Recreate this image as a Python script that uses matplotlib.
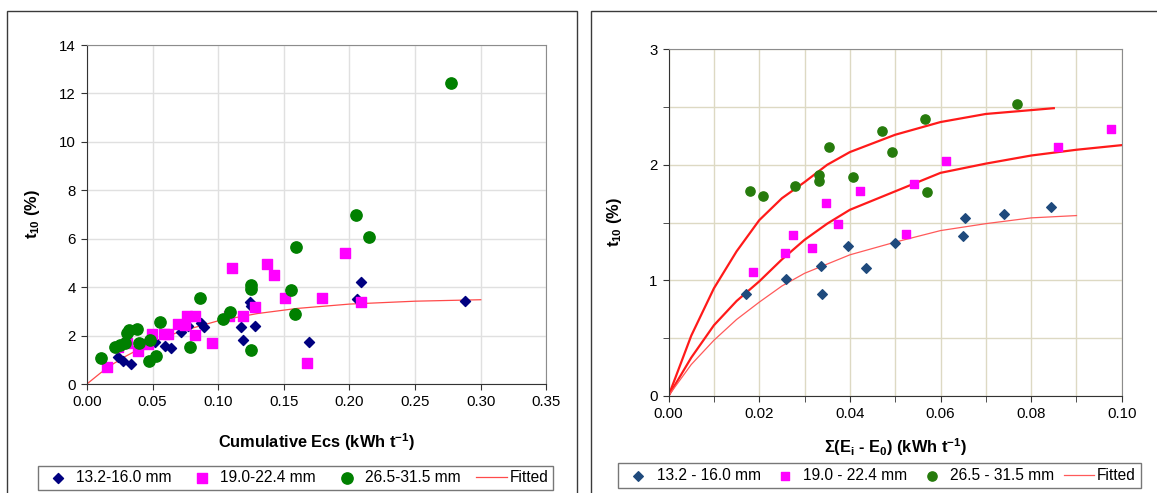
import matplotlib
matplotlib.use('Agg')
import matplotlib.pyplot as plt
from matplotlib.patches import Rectangle
from matplotlib.ticker import MultipleLocator, FormatStrFormatter

plt.rcParams['font.family'] = ['Liberation Sans', 'DejaVu Sans']
plt.rcParams['mathtext.fontset'] = 'custom'
plt.rcParams['mathtext.rm'] = 'Liberation Sans'
plt.rcParams['mathtext.bf'] = 'Liberation Sans:bold'

# ---- left panel data: cumulative Ecs vs t10
l_d_x = [0.0234, 0.0277, 0.0336, 0.0519, 0.0595, 0.0638, 0.0714, 0.0772, 0.0869, 0.0892,
         0.1174, 0.1187, 0.1242, 0.1248, 0.128, 0.169, 0.2055, 0.2088, 0.288]
l_d_y = [1.13, 0.96, 0.81, 1.75, 1.57, 1.47, 2.16, 2.40, 2.51, 2.34,
         2.34, 1.82, 3.40, 3.22, 2.41, 1.72, 3.50, 4.23, 3.43]
l_s_x = [0.0155, 0.024, 0.0303, 0.0392, 0.0468, 0.0498, 0.059, 0.062, 0.0696, 0.0747,
         0.076, 0.0823, 0.0826, 0.095, 0.108, 0.1105, 0.119, 0.1283, 0.1372, 0.1428,
         0.1512, 0.168, 0.1788, 0.1966, 0.2085]
l_s_y = [0.72, 1.54, 1.68, 1.38, 1.64, 2.07, 2.07, 2.07, 2.48, 2.44,
         2.81, 2.81, 2.02, 1.68, 2.82, 4.78, 2.82, 3.19, 4.94, 4.50,
         3.55, 0.87, 3.54, 5.40, 3.40]
l_c_x = [0.011, 0.0214, 0.0254, 0.029, 0.0305, 0.0324, 0.038, 0.0395, 0.047, 0.0477,
         0.0527, 0.0558, 0.0784, 0.0865, 0.1034, 0.109, 0.1249, 0.1252, 0.1252, 0.1553,
         0.1584, 0.1595, 0.2052, 0.2145, 0.277]
l_c_y = [1.07, 1.52, 1.61, 1.71, 2.11, 2.23, 2.27, 1.71, 0.95, 1.82,
         1.17, 2.57, 1.53, 3.56, 2.68, 2.96, 3.94, 4.09, 1.40, 3.88,
         2.89, 5.65, 6.98, 6.06, 12.42]
l_fit_x = [0, 0.01, 0.02, 0.03, 0.05, 0.07, 0.10, 0.13, 0.16, 0.20, 0.25, 0.30]
l_fit_y = [0, 0.44, 0.83, 1.16, 1.73, 2.15, 2.61, 2.91, 3.12, 3.30, 3.42, 3.48]

# ---- right panel data: sum(Ei - E0) vs t10
r_d_x = [0.017, 0.0259, 0.0336, 0.0338, 0.0395, 0.0435, 0.050, 0.065, 0.0654, 0.0741, 0.0844]
r_d_y = [0.88, 1.01, 1.12, 0.88, 1.30, 1.11, 1.32, 1.38, 1.54, 1.57, 1.63]
r_s_x = [0.0187, 0.0257, 0.0274, 0.0316, 0.0347, 0.0373, 0.0422, 0.0523, 0.0541, 0.0612, 0.0859, 0.0977]
r_s_y = [1.07, 1.24, 1.39, 1.28, 1.67, 1.49, 1.77, 1.40, 1.83, 2.03, 2.15, 2.31]
r_c_x = [0.018, 0.0209, 0.0278, 0.0331, 0.0332, 0.0353, 0.0407, 0.0471, 0.0493, 0.0566, 0.0571, 0.0769]
r_c_y = [1.77, 1.73, 1.82, 1.91, 1.86, 2.15, 1.89, 2.29, 2.11, 2.40, 1.76, 2.53]
fit_c_x = [0, 0.005, 0.01, 0.015, 0.02, 0.025, 0.03, 0.035, 0.04, 0.05, 0.06, 0.07, 0.085]
fit_c_y = [0, 0.52, 0.93, 1.25, 1.52, 1.71, 1.85, 2.0, 2.11, 2.26, 2.37, 2.44, 2.49]
fit_s_x = [0, 0.005, 0.01, 0.015, 0.02, 0.025, 0.03, 0.035, 0.04, 0.05, 0.06, 0.07, 0.08, 0.09, 0.10]
fit_s_y = [0, 0.33, 0.61, 0.82, 0.99, 1.18, 1.35, 1.49, 1.61, 1.77, 1.93, 2.01, 2.08, 2.13, 2.17]
fit_d_x = [0, 0.005, 0.01, 0.015, 0.02, 0.025, 0.03, 0.04, 0.05, 0.06, 0.07, 0.08, 0.09]
fit_d_y = [0, 0.27, 0.48, 0.66, 0.81, 0.95, 1.06, 1.22, 1.33, 1.43, 1.49, 1.54, 1.56]

W, H = 1157, 493
fig = plt.figure(figsize=(W / 100, H / 100), dpi=100)

# panel frames
fig.patches.append(Rectangle((7 / W, -0.01), 570 / W, (H - 11) / H + 0.01,
                             transform=fig.transFigure, fill=False, ec='#3a3a3a', lw=1))
fig.patches.append(Rectangle((591 / W, -0.01), 580 / W, (H - 11) / H + 0.01,
                             transform=fig.transFigure, fill=False, ec='#3a3a3a', lw=1))


def style_axes(ax, gridcol):
    ax.grid(True, which='both', color=gridcol, lw=1)
    ax.set_axisbelow(True)
    for s in ['top', 'right']:
        ax.spines[s].set_color('#8c8c8c')
    for s in ['left', 'bottom']:
        ax.spines[s].set_color('#333333')
    ax.tick_params(which='both', direction='out', length=4, color='#333333',
                   labelsize=10.8, pad=4)


def add_legend(ax, x0, y0, w, h, colsp):
    hd, lb = ax.get_legend_handles_labels()
    order = [1, 2, 3, 0]
    fig.legend([hd[i] for i in order], [lb[i] for i in order], ncol=4,
               bbox_to_anchor=(x0 / W, y0 / H, w / W, h / H), loc='center',
               fontsize=11.2, frameon=True, fancybox=False, edgecolor='#555555',
               handlelength=1.95, handletextpad=0.2, columnspacing=colsp,
               borderaxespad=0, scatterpoints=1, borderpad=0.3)


# ---- left
ax1 = fig.add_axes([86.9 / W, (H - 384) / H, 459.5 / W, 339 / H])
style_axes(ax1, '#e0e0e0')
ax1.plot(l_fit_x, l_fit_y, color='#ff4a4a', lw=0.9, label='Fitted', zorder=2)
ax1.scatter(l_d_x, l_d_y, marker='D', s=26, color='#000080', label='13.2-16.0 mm', zorder=3)
ax1.scatter(l_s_x, l_s_y, marker='s', s=60, color='#ff00ff', label='19.0-22.4 mm', zorder=3)
ax1.scatter(l_c_x, l_c_y, marker='o', s=66, color='#008000', label='26.5-31.5 mm', zorder=3)
ax1.set_xlim(0, 0.35)
ax1.set_ylim(0, 14)
ax1.xaxis.set_major_locator(MultipleLocator(0.05))
ax1.yaxis.set_major_locator(MultipleLocator(2))
ax1.xaxis.set_major_formatter(FormatStrFormatter('%.2f'))
ax1.set_xlabel('Cumulative Ecs (kWh t$^{\\mathregular{-1}}$)', fontsize=11.8,
               fontweight='bold', labelpad=16)
ax1.set_ylabel('t$_{\\mathregular{10}}$ (%)', fontsize=11.8, fontweight='bold', labelpad=12)
add_legend(ax1, 36, 1, 519, 28, 1.0)

# ---- right
ax2 = fig.add_axes([668.6 / W, (H - 395.7) / H, 453.2 / W, 346.4 / H])
style_axes(ax2, '#ddd9c3')
ax2.plot(fit_c_x, fit_c_y, color='#ff1a1a', lw=1.6, zorder=2)
ax2.plot(fit_s_x, fit_s_y, color='#ff1a1a', lw=1.6, zorder=2)
ax2.plot(fit_d_x, fit_d_y, color='#ff5a5a', lw=0.9, label='Fitted', zorder=2)
ax2.scatter(r_d_x, r_d_y, marker='D', s=24, color='#1f4a7d', label='13.2 - 16.0 mm', zorder=3)
ax2.scatter(r_s_x, r_s_y, marker='s', s=40, color='#ff00ff', label='19.0 - 22.4 mm', zorder=3)
ax2.scatter(r_c_x, r_c_y, marker='o', s=44, color='#267b0c', label='26.5 - 31.5 mm', zorder=3)
ax2.set_xlim(0, 0.10)
ax2.set_ylim(0, 3)
ax2.xaxis.set_major_locator(MultipleLocator(0.02))
ax2.xaxis.set_minor_locator(MultipleLocator(0.01))
ax2.yaxis.set_major_locator(MultipleLocator(1))
ax2.yaxis.set_minor_locator(MultipleLocator(0.5))
ax2.xaxis.set_major_formatter(FormatStrFormatter('%.2f'))
ax2.set_xlabel('Σ(E$_{\\mathregular{i}}$ - E$_{\\mathregular{0}}$) (kWh t$^{\\mathregular{-1}}$)',
               fontsize=11.8, fontweight='bold', labelpad=11)
ax2.set_ylabel('t$_{\\mathregular{10}}$ (%)', fontsize=11.8, fontweight='bold', labelpad=18)
add_legend(ax2, 620, 4, 519, 27, 0.6)

fig.savefig('out.png', dpi=100)
